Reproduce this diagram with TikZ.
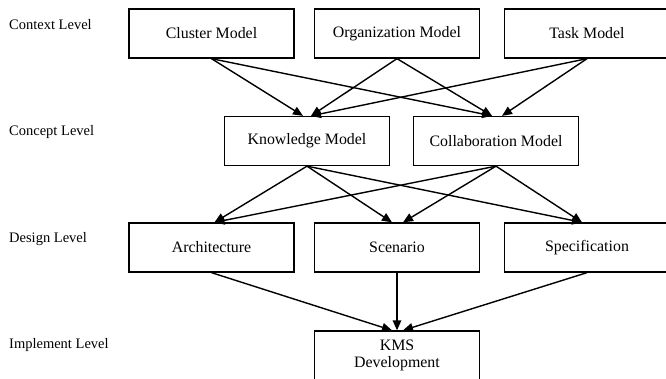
\documentclass[tikz,border=0pt]{standalone}
\usepackage{fontspec}
\setmainfont{Liberation Serif}
\usetikzlibrary{arrows.meta}

\tikzset{
  model/.style={draw, line width=1.3pt, minimum width=165pt, minimum height=49pt,
    inner sep=0pt, align=center, font=\fontsize{15.9}{17}\selectfont},
  flow/.style={line width=1.4pt, -{Triangle[length=10pt,width=8.5pt]}},
  level/.style={anchor=west, inner sep=0pt, font=\fontsize{14.5}{17}\selectfont}
}

\begin{document}
\begin{tikzpicture}[x=1pt,y=-1pt]
\useasboundingbox (0,0) rectangle (666,378);
% level names
\node[level] (lctx) at (9,25) {Context Level};
\node[level] (lcon) at (9,132) {Concept Level};
\node[level] (ldes) at (9,239) {Design Level};
\node[level] (limp) at (9,345) {Implement Level};
% context level
\node[model] (cluster) at (211.5,33.5) {Cluster Model};
\node[model] (org) at (397,33.5) {Organization Model};
\node[model] (task) at (587,33.5) {Task Model};
% concept level
\node[model] (know) at (307,141) {Knowledge Model};
\node[model] (collab) at (496,141) {Collaboration Model};
% design level
\node[model] (arch) at (211.5,247.5) {Architecture};
\node[model] (scen) at (397,247.5) {Scenario};
\node[model] (spec) at (587,247.5) {Specification};
% implement level
\node[model] (kms) at (397,355.5) {KMS\\Development};
% context -> concept
\foreach \src/\dx in {cluster/-4, org/4, task/4}{
  \draw[flow] (\src.south) -- ([xshift=\dx pt]know.north);
}
\foreach \src/\dx in {cluster/-4, org/-4, task/6}{
  \draw[flow] (\src.south) -- ([xshift=\dx pt]collab.north);
}
% concept -> design
\foreach \src/\dx in {know/3, collab/3}{
  \draw[flow] (\src.south) -- ([xshift=\dx pt]arch.north);
}
\foreach \src/\dx in {know/-5, collab/6}{
  \draw[flow] (\src.south) -- ([xshift=\dx pt]scen.north);
}
\foreach \src/\dx in {know/-5, collab/-5}{
  \draw[flow] (\src.south) -- ([xshift=\dx pt]spec.north);
}
% design -> implement
\foreach \src/\dx in {arch/-5, scen/0, spec/6}{
  \draw[flow] (\src.south) -- ([xshift=\dx pt]kms.north);
}
\end{tikzpicture}
\end{document}
